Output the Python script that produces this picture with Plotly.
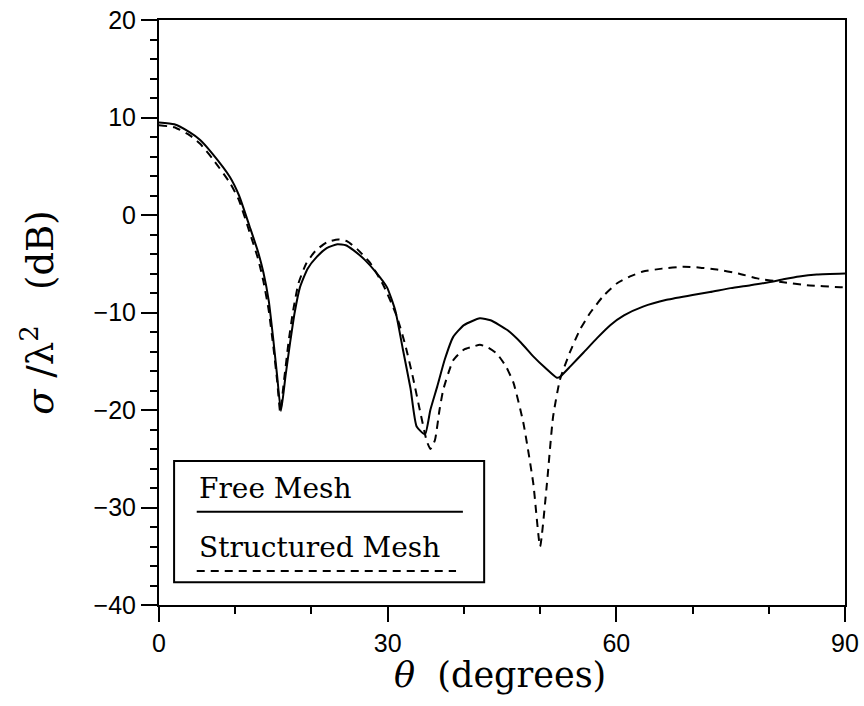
import plotly.graph_objects as go

theta_free = [0, 2, 4, 5.4, 7, 9.3, 10.5, 11.9, 13, 13.7, 14.4, 15, 15.5, 16.0, 16.6, 17.2, 17.8,
              18.5, 19.5, 20.7, 22, 23.4, 24.5, 25.5, 27, 28.5, 29.9, 31, 32, 33, 33.8, 34.9,
              35.6, 36.5, 37.5, 38.6, 40, 42.1, 43.5, 45.7, 47.5, 49.1, 50.7, 52.2, 52.6, 54,
              55.7, 57.5, 59.2, 61, 63.5, 66.6, 70, 72.3, 75, 77.6, 80, 81.9, 84, 86.3, 90]
db_free = [9.5, 9.3, 8.5, 7.7, 6.3, 3.9, 2.0, -1.2, -3.8, -5.9, -8.8, -12.8, -16.5, -20.1, -16.5,
           -13.1, -10.0, -7.4, -5.5, -4.3, -3.4, -3.0, -3.1, -3.6, -4.6, -5.9, -7.4, -9.8, -13.8,
           -17.8, -21.7, -22.5, -20.0, -17.6, -14.8, -12.5, -11.3, -10.6, -10.8, -11.8, -13.1,
           -14.5, -15.7, -16.7, -16.6, -15.5, -14.1, -12.6, -11.3, -10.3, -9.4, -8.7, -8.2, -7.9,
           -7.5, -7.2, -6.9, -6.6, -6.3, -6.1, -6.0]

theta_struct = [0, 2, 4, 5.4, 7, 9.3, 10.5, 11.9, 13, 13.7, 14.4, 15, 15.5, 15.9, 16.4, 17, 17.6,
                18.3, 19.3, 20.5, 22, 23.5, 24.7, 26, 27.7, 29.5, 31.2, 32.3, 33.3, 34.3, 35.1,
                35.6, 36.2, 36.8, 37.3, 38.6, 40, 41.2, 42.1, 43.2, 44.3, 45.5, 46.5, 47.8, 49.1,
                50, 50.9, 51.7, 52.6, 53.9, 55.2, 56.6, 58.3, 60.1, 61.8, 63.5, 66, 68.8, 71, 73.2,
                76, 78.5, 81.9, 85, 89.4, 90]
db_struct = [9.2, 9.0, 8.2, 7.3, 5.8, 3.3, 1.5, -1.8, -4.5, -6.8, -9.8, -13.5, -17.0, -20.2, -17.0,
             -13.0, -9.8, -7.0, -5.0, -3.7, -2.8, -2.5, -2.7, -3.5, -4.9, -7.3, -10.4, -13.3,
             -16.6, -20.3, -23.1, -24.0, -23.1, -20.0, -17.9, -14.9, -13.8, -13.5, -13.3, -13.6,
             -14.2, -15.5, -17.2, -21.3, -27.5, -34.0, -27.5, -20.7, -16.9, -14.1, -11.8, -10.0,
             -8.3, -7.0, -6.3, -5.8, -5.5, -5.3, -5.4, -5.6, -6.0, -6.5, -6.9, -7.2, -7.4, -7.4]

x_ticks = [0, 30, 60, 90]
y_ticks = [-40, -30, -20, -10, 0, 10, 20]
legend_labels = ["Free Mesh", "Structured Mesh"]

SERIF = "DejaVu Serif"
SANS = "Liberation Sans"

fig = go.Figure()
fig.add_trace(go.Scatter(x=theta_free, y=db_free, mode="lines", name=legend_labels[0],
                         line=dict(color="black", width=2, shape="spline", smoothing=0.5)))
fig.add_trace(go.Scatter(x=theta_struct, y=db_struct, mode="lines", name=legend_labels[1],
                         line=dict(color="black", width=2, dash="8px,6px", shape="spline",
                                   smoothing=0.5)))

axis_common = dict(showgrid=False, zeroline=False, showline=True, linecolor="black", linewidth=2,
                   mirror=True, ticks="outside", tickcolor="black", tickwidth=2,
                   tickfont=dict(family=SANS, size=25, color="black"))

fig.update_xaxes(range=[0, 90], tickvals=x_ticks, ticklen=15,
                 minor=dict(dtick=10, ticklen=7, ticks="outside", tickcolor="black", tickwidth=2),
                 **axis_common)
fig.update_yaxes(range=[-40, 20], tickvals=y_ticks, ticklen=16,
                 minor=dict(dtick=2, ticklen=7, ticks="outside", tickcolor="black", tickwidth=2),
                 **axis_common)

# legend box drawn in paper coordinates
fig.add_shape(type="rect", xref="paper", yref="paper", x0=0.022, x1=0.474, y0=0.039, y1=0.246,
              line=dict(color="black", width=2), fillcolor="white", layer="below")
fig.add_shape(type="line", xref="paper", yref="paper", x0=0.055, x1=0.443, y0=0.1595, y1=0.1595,
              line=dict(color="black", width=2))
fig.add_shape(type="line", xref="paper", yref="paper", x0=0.055, x1=0.433, y0=0.058, y1=0.058,
              line=dict(color="black", width=2, dash="8px,6px"))
fig.add_annotation(xref="paper", yref="paper", x=0.055, y=0.168, xanchor="left", yanchor="bottom",
                   text=legend_labels[0], showarrow=False,
                   font=dict(family=SERIF, size=28, color="black"))
fig.add_annotation(xref="paper", yref="paper", x=0.055, y=0.066, xanchor="left", yanchor="bottom",
                   text=legend_labels[1], showarrow=False,
                   font=dict(family=SERIF, size=28, color="black"))

# axis titles
fig.add_annotation(xref="paper", yref="paper", x=0.497, y=-0.12, xanchor="center", yanchor="middle",
                   text="<i>θ</i>  (degrees)", showarrow=False,
                   font=dict(family=SERIF, size=35, color="black"))
fig.add_annotation(xref="paper", yref="paper", x=-0.176, y=0.5, xanchor="center", yanchor="middle",
                   text="<i>σ</i> /λ<sup>2</sup>   (dB)", showarrow=False, textangle=-90,
                   font=dict(family=SERIF, size=37, color="black"))

fig.update_layout(width=864, height=706, showlegend=False,
                  margin=dict(l=159, r=19, t=20, b=101, autoexpand=False),
                  paper_bgcolor="white", plot_bgcolor="white")

fig.write_html("out.html")
